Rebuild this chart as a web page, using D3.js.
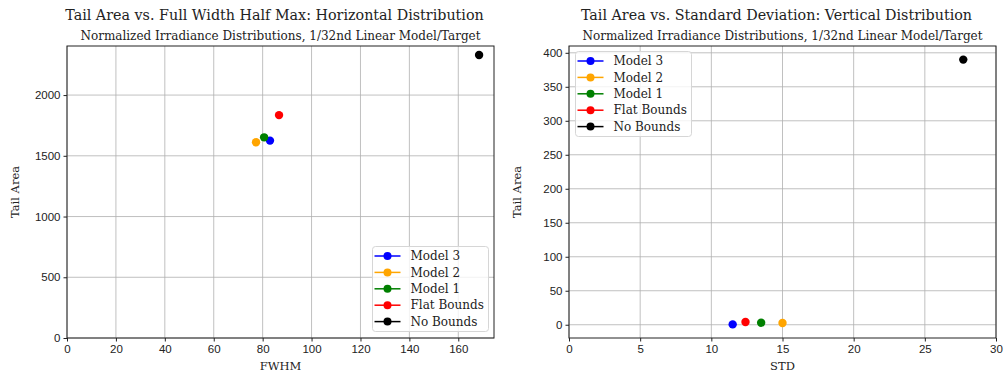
<!DOCTYPE html>
<html>
<head>
<meta charset="utf-8">
<script src="https://cdn.jsdelivr.net/npm/d3@7"></script>
<style>
  body { margin: 0; background: #fff; }
  svg { font-family: "DejaVu Serif", serif; }
  .tick text { font-size: 11.5px; fill: #222; }
  .grid line { stroke: #b0b0b0; stroke-width: 0.8; }
</style>
</head>
<body>
<svg id="chart" width="1005" height="375"></svg>
<script>
// Series names and colours (shared by both panels)
const seriesNames = ["Model 3", "Model 2", "Model 1", "Flat Bounds", "No Bounds"];
const seriesColors = ["blue", "orange", "green", "red", "black"];

// Horizontal distribution: FWHM vs tail area
const fwhmValues = [83.0, 77.3, 80.6, 86.7, 168.5];
const tailAreaH = [1625, 1612, 1652, 1835, 2330];

// Vertical distribution: standard deviation vs tail area
const stdValues = [11.5, 15.0, 13.5, 12.4, 27.7];
const tailAreaV = [0.5, 2.5, 3.0, 4.0, 390];

const ticksLeftX = [0, 20, 40, 60, 80, 100, 120, 140, 160];
const ticksLeftY = [0, 500, 1000, 1500, 2000];
const ticksRightX = [0, 5, 10, 15, 20, 25, 30];
const ticksRightY = [0, 50, 100, 150, 200, 250, 300, 350, 400];

const svg = d3.select("#chart");

function panel(opts) {
  const g = svg.append("g");
  const x = d3.scaleLinear().domain(opts.xDomain).range([opts.left, opts.right]);
  const y = d3.scaleLinear().domain(opts.yDomain).range([opts.bottom, opts.top]);

  // grid
  g.append("g").attr("class", "grid")
    .selectAll("line").data(opts.xTicks).join("line")
    .attr("x1", d => x(d)).attr("x2", d => x(d))
    .attr("y1", opts.top).attr("y2", opts.bottom);
  g.append("g").attr("class", "grid")
    .selectAll("line").data(opts.yTicks).join("line")
    .attr("x1", opts.left).attr("x2", opts.right)
    .attr("y1", d => y(d)).attr("y2", d => y(d));

  // frame
  g.append("rect")
    .attr("x", opts.left).attr("y", opts.top)
    .attr("width", opts.right - opts.left).attr("height", opts.bottom - opts.top)
    .attr("fill", "none").attr("stroke", "#222").attr("stroke-width", 1);

  // axes
  const xa = g.append("g").attr("transform", `translate(0,${opts.bottom})`)
    .call(d3.axisBottom(x).tickValues(opts.xTicks).tickSize(3.5).tickPadding(3).tickFormat(d3.format("d")));
  const ya = g.append("g").attr("transform", `translate(${opts.left},0)`)
    .call(d3.axisLeft(y).tickValues(opts.yTicks).tickSize(3.5).tickPadding(3).tickFormat(d3.format("d")));
  [xa, ya].forEach(a => {
    a.select(".domain").remove();
    a.selectAll(".tick line").attr("stroke", "#222");
  });

  // points
  g.selectAll("circle.pt").data(opts.xs.map((v, i) => ({ x: v, y: opts.ys[i], c: seriesColors[i] })))
    .join("circle")
    .attr("cx", d => x(d.x)).attr("cy", d => y(d.y))
    .attr("r", 4.2).attr("fill", d => d.c);

  // titles
  const cx = (opts.left + opts.right) / 2;
  g.append("text").attr("x", cx - 6).attr("y", 20).attr("text-anchor", "middle")
    .attr("font-size", 14.3).attr("fill", "#222").text(opts.title);
  g.append("text").attr("x", cx).attr("y", 40).attr("text-anchor", "middle")
    .attr("font-size", 12).attr("fill", "#222").text(opts.subtitle);
  g.append("text").attr("x", cx).attr("y", 370).attr("text-anchor", "middle")
    .attr("font-size", 11.5).attr("fill", "#222").text(opts.xLabel);
  g.append("text")
    .attr("transform", `translate(${opts.left - 48},${(opts.top + opts.bottom) / 2}) rotate(-90)`)
    .attr("text-anchor", "middle").attr("font-size", 11.5).attr("fill", "#222").text(opts.yLabel);

  // legend
  const lg = g.append("g").attr("transform", `translate(${opts.legendX},${opts.legendY})`);
  lg.append("rect").attr("width", 116).attr("height", 85).attr("rx", 3)
    .attr("fill", "white").attr("fill-opacity", 0.8).attr("stroke", "#d6d6d6");
  seriesNames.forEach((name, i) => {
    const yy = 9.5 + i * 16.4;
    lg.append("line").attr("x1", 2).attr("x2", 28).attr("y1", yy).attr("y2", yy)
      .attr("stroke", seriesColors[i]).attr("stroke-width", 1.5);
    lg.append("circle").attr("cx", 15).attr("cy", yy).attr("r", 4).attr("fill", seriesColors[i]);
    lg.append("text").attr("x", 38).attr("y", yy + 4.2).attr("font-size", 12)
      .attr("fill", "#222").text(name);
  });
}

panel({
  left: 67, right: 494, top: 46, bottom: 338,
  xDomain: [0, 174.6], yDomain: [0, 2404],
  xTicks: ticksLeftX, yTicks: ticksLeftY,
  xs: fwhmValues, ys: tailAreaH,
  title: "Tail Area vs. Full Width Half Max: Horizontal Distribution",
  subtitle: "Normalized Irradiance Distributions, 1/32nd Linear Model/Target",
  xLabel: "FWHM", yLabel: "Tail Area",
  legendX: 372.5, legendY: 246.5
});

panel({
  left: 569, right: 996, top: 46, bottom: 338,
  xDomain: [0, 30], yDomain: [-19.5, 410],
  xTicks: ticksRightX, yTicks: ticksRightY,
  xs: stdValues, ys: tailAreaV,
  title: "Tail Area vs. Standard Deviation: Vertical Distribution",
  subtitle: "Normalized Irradiance Distributions, 1/32nd Linear Model/Target",
  xLabel: "STD", yLabel: "Tail Area",
  legendX: 575.5, legendY: 51.5
});
</script>
</body>
</html>
